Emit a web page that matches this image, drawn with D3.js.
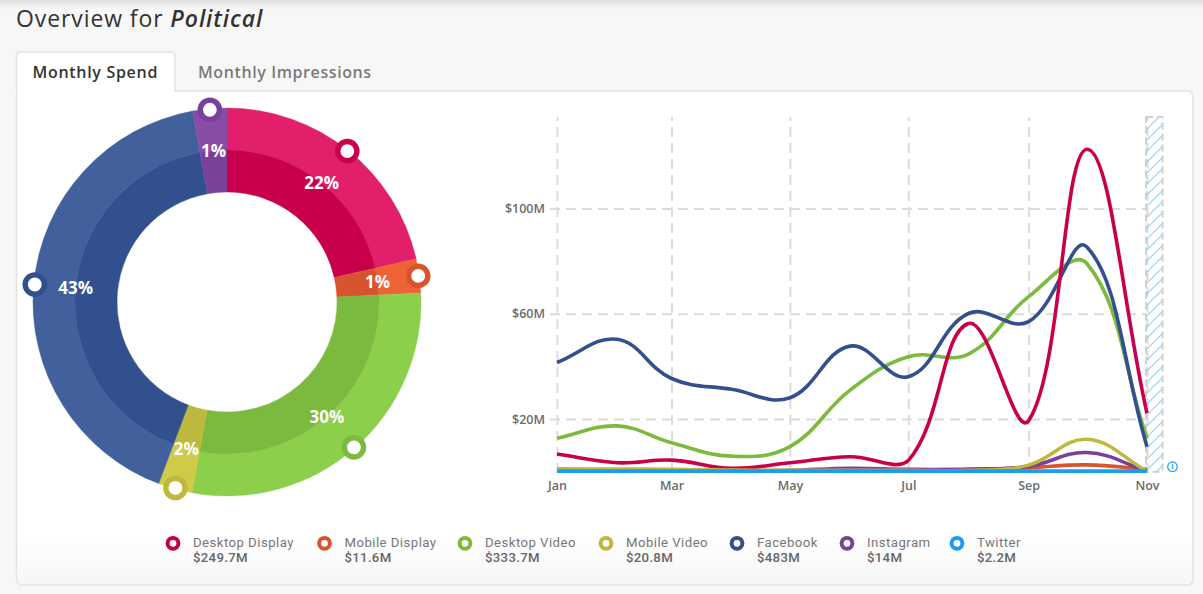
<!DOCTYPE html>
<html><head><meta charset="utf-8">
<script src="https://cdn.jsdelivr.net/npm/d3@7"></script>
<style>
html,body{margin:0;padding:0;background:#f7f7f7;}
svg{display:block;font-family:"Open Sans",sans-serif;}
</style></head><body>
<svg id="c" width="1203" height="594"></svg>
<script>
// ---------- data ----------
const categories = ["Desktop Display","Mobile Display","Desktop Video","Mobile Video","Facebook","Instagram","Twitter"];
const totals = [249.7, 11.6, 333.7, 20.8, 483, 14, 2.2];           // $M
const totalLabels = ["$249.7M","$11.6M","$333.7M","$20.8M","$483M","$14M","$2.2M"];
const months = ["2018-01","2018-02","2018-03","2018-04","2018-05","2018-06","2018-07","2018-08","2018-09","2018-10","2018-11"];
const desktopDisplay = [6.7,3.4,4.4,1.3,3.4,5.7,4.2,56.3,19.4,122.5,22.2];
const mobileDisplay  = [0.3,0.3,0.3,0.3,0.3,0.3,0.3,0.6,1.5,2.6,0.9];
const desktopVideo   = [12.7,17.4,11.0,5.9,9.5,31.0,43.7,44.7,66.5,79.1,12.7];
const mobileVideo    = [1.1,1.0,0.9,0.6,0.5,0.5,0.5,0.5,2.5,12.3,0.2];
const facebook       = [41.5,50.3,35.4,31.3,28.1,47.7,36.1,60.1,57.0,85.4,9.5];
const instagram      = [0.2,0.2,0.2,0.3,0.5,1.3,0.9,1.0,2.0,7.3,0.3];
const twitter        = [0.2,0.2,0.2,0.2,0.2,0.2,0.2,0.2,0.2,0.2,0.2];
const yTicks = [20,60,100];
const yTickLabels = ["$20M","$60M","$100M"];
const xTickLabels = ["Jan","Mar","May","Jul","Sep","Nov"];

// ---------- styles ----------
const baseColors  = ["#c8004b","#d8542f","#7cba3f","#bdb83e","#32508e","#7a409a","#1a9cf0"];
const lightColors = ["#e11f6b","#ee6235","#8ccf4a","#cfca48","#41609c","#8a4ca7","#3aaef5"];
const seriesData = [desktopDisplay,mobileDisplay,desktopVideo,mobileVideo,facebook,instagram,twitter];
const drawOrder = [2,4,0,1,5,3,6];

const svg = d3.select("#c");
const defs = svg.append("defs");

// page top shadow
const tg = defs.append("linearGradient").attr("id","topShadow").attr("x1",0).attr("x2",0).attr("y1",0).attr("y2",1);
tg.append("stop").attr("offset",0).attr("stop-color","#dedede");
tg.append("stop").attr("offset",1).attr("stop-color","#f7f7f7");
svg.append("rect").attr("x",0).attr("y",0).attr("width",1203).attr("height",9).attr("fill","url(#topShadow)");

// panel gradient
const pg = defs.append("linearGradient").attr("id","panelFill").attr("x1",0).attr("x2",0).attr("y1",0).attr("y2",1);
pg.append("stop").attr("offset",0.9).attr("stop-color","#ffffff");
pg.append("stop").attr("offset",1).attr("stop-color","#f6f6f6");

// hatch pattern
const hp = defs.append("pattern").attr("id","hatch").attr("width",11).attr("height",11).attr("patternUnits","userSpaceOnUse");
hp.append("path").attr("d","M-1,1 l2,-2 M0,11 l11,-11 M10,12 l2,-2").attr("stroke","#8fd0f5").attr("stroke-width",1.1);

// title
const title = svg.append("text").attr("x",16).attr("y",26.5).attr("font-size",23).attr("letter-spacing",0.9).attr("fill","#333");
title.append("tspan").text("Overview for ");
title.append("tspan").attr("font-style","italic").attr("font-weight",600).text("Political");

// panel
svg.append("rect").attr("x",16.5).attr("y",91).attr("width",1176.5).attr("height",494).attr("rx",5)
  .attr("fill","url(#panelFill)").attr("stroke","#e3e3e3").attr("stroke-width",1.6);
// active tab
svg.append("path").attr("d","M16.5,92 L16.5,56 Q16.5,52 20.5,52 L171,52 Q175,52 175,56 L175,92")
  .attr("fill","#fff").attr("stroke","#e3e3e3").attr("stroke-width",1.6);
svg.append("rect").attr("x",17.4).attr("y",89).attr("width",156.8).attr("height",4).attr("fill","#fff");
svg.append("text").attr("x",32.5).attr("y",78).attr("font-size",16).attr("letter-spacing",0.7).attr("font-weight",600).attr("fill","#333").text("Monthly Spend");
svg.append("text").attr("x",198).attr("y",78).attr("font-size",16).attr("letter-spacing",0.6).attr("font-weight",600).attr("fill","#7a7a7a").text("Monthly Impressions");

// ---------- donut ----------
const sum = d3.sum(totals);
const pctR = totals.map(v => Math.round(v / sum * 100));
const minFrac = 10.2 / 360;
const isSmall = totals.map((v,i) => pctR[i] > 0 && v / sum < minFrac);
const bigSum = d3.sum(totals.filter((v,i) => pctR[i] > 0 && !isSmall[i]));
const bigFrac = 1 - minFrac * isSmall.filter(Boolean).length;
const displayVals = totals.map((v,i) => pctR[i] === 0 ? 0 : (isSmall[i] ? minFrac / bigFrac * bigSum : v));

const cx = 227, cy = 302, rIn = 110, rMid = 152, rOut = 194;
const pie = d3.pie().sort(null).value((d,i) => displayVals[i]);
const arcs = pie(categories);
const donut = svg.append("g").attr("transform",`translate(${cx},${cy})`);
const arcInner = d3.arc().innerRadius(rIn).outerRadius(rMid);
const arcOuter = d3.arc().innerRadius(rMid).outerRadius(rOut);
const shown = arcs.filter(a => a.endAngle - a.startAngle > 0);
donut.selectAll("path.o").data(shown).join("path").attr("class","o")
  .attr("d",arcOuter).attr("fill",d => lightColors[d.index]).attr("stroke",d => lightColors[d.index]).attr("stroke-width",0.4);
donut.selectAll("path.i").data(shown).join("path").attr("class","i")
  .attr("d",arcInner).attr("fill",d => baseColors[d.index]).attr("stroke",d => baseColors[d.index]).attr("stroke-width",0.4);
const mid = a => (a.startAngle + a.endAngle) / 2;
donut.selectAll("text.pct").data(shown).join("text").attr("class","pct")
  .attr("x",d => rMid * Math.sin(mid(d))).attr("y",d => -rMid * Math.cos(mid(d)))
  .attr("text-anchor","middle").attr("dy","0.36em")
  .attr("font-size",17).attr("font-weight",700).attr("fill","#fff")
  .text(d => pctR[d.index] + "%");
donut.selectAll("circle.mk").data(shown).join("circle").attr("class","mk")
  .attr("cx",d => 193 * Math.sin(mid(d))).attr("cy",d => -193 * Math.cos(mid(d)))
  .attr("r",9.6).attr("fill","#fff").attr("stroke",d => baseColors[d.index]).attr("stroke-width",5.4);

// ---------- line chart ----------
const parse = d3.timeParse("%Y-%m");
const dates = months.map(parse);
const x = d3.scaleTime().domain(d3.extent(dates)).range([557,1147]);
const yMax = d3.max(seriesData.flat()) * 1.1;
const y = d3.scaleLinear().domain([0, yMax]).range([471.7, 117]);
const yTop = y.range()[1], yBottom = y.range()[0];

const chart = svg.append("g");
// vertical grid
const xTickDates = d3.timeMonth.every(2).range(dates[0], d3.timeDay.offset(dates[dates.length-1],1));
const vg = chart.append("g").attr("transform",`translate(0,${yBottom+1})`)
  .call(d3.axisBottom(x).tickValues(xTickDates).tickSize(-(yBottom + 1 - yTop)).tickFormat(""));
vg.select(".domain").remove();
vg.selectAll("line").attr("stroke","#dcdcdc").attr("stroke-width",2).attr("stroke-dasharray","10,6");
// horizontal grid
const hg = chart.append("g").attr("transform","translate(550,0)")
  .call(d3.axisLeft(y).tickValues(yTicks).tickSize(-(1145 - 550)).tickFormat(""));
hg.select(".domain").remove();
hg.selectAll("line").attr("stroke","#dcdcdc").attr("stroke-width",2).attr("stroke-dasharray","10,6");

// hatched (incomplete month)
chart.append("rect").attr("x",x(dates[dates.length-1]) - 1).attr("y",yTop).attr("width",16.5).attr("height",yBottom - yTop)
  .attr("fill","url(#hatch)").attr("stroke","#d0d0d0").attr("stroke-width",2).attr("stroke-dasharray","7,4");

// axes labels
const ya = chart.append("g").attr("transform","translate(545,0)")
  .call(d3.axisLeft(y).tickValues(yTicks).tickSize(0).tickPadding(0).tickFormat((d,i) => yTickLabels[i]));
ya.select(".domain").remove();
ya.selectAll("text").attr("font-family","Open Sans, sans-serif").attr("font-size",12.5).attr("font-weight",600).attr("fill","#6b6b6b");
const xa = chart.append("g").attr("transform",`translate(0,${yBottom})`)
  .call(d3.axisBottom(x).tickValues(xTickDates).tickSize(0).tickPadding(9).tickFormat((d,i) => xTickLabels[i]));
xa.select(".domain").remove();
xa.selectAll("text").attr("font-family","Open Sans, sans-serif").attr("font-size",12.5).attr("font-weight",600).attr("fill","#6b6b6b");

// Chart.js-like spline (tension 0.4, control points capped to the chart area)
function splineCurve(bounds){
  return function(context){
    let pts;
    return {
      areaStart(){}, areaEnd(){},
      lineStart(){ pts = []; },
      point(px,py){ pts.push([+px,+py]); },
      lineEnd(){
        const n = pts.length, t = 0.4;
        if (!n) return;
        const cap = (v,lo,hi) => Math.max(lo, Math.min(hi, v));
        const cps = pts.map((p,i) => {
          const a = pts[Math.max(0,i-1)], b = pts[Math.min(n-1,i+1)];
          const d01 = Math.hypot(p[0]-a[0], p[1]-a[1]), d12 = Math.hypot(b[0]-p[0], b[1]-p[1]);
          let s01 = d01/(d01+d12), s12 = d12/(d01+d12);
          if (!isFinite(s01)) s01 = 0; if (!isFinite(s12)) s12 = 0;
          const fa = t*s01, fb = t*s12;
          return [cap(p[0]-fa*(b[0]-a[0]), bounds.left, bounds.right), cap(p[1]-fa*(b[1]-a[1]), bounds.top, bounds.bottom),
                  cap(p[0]+fb*(b[0]-a[0]), bounds.left, bounds.right), cap(p[1]+fb*(b[1]-a[1]), bounds.top, bounds.bottom)];
        });
        context.moveTo(pts[0][0], pts[0][1]);
        for (let i = 1; i < n; i++) {
          const c0 = cps[i-1], c1 = cps[i];
          context.bezierCurveTo(c0[2], c0[3], c1[0], c1[1], pts[i][0], pts[i][1]);
        }
      }
    };
  };
}
const line = d3.line().x((d,i) => x(dates[i])).y(d => y(d))
  .curve(splineCurve({left:557, right:1147, top:yTop, bottom:yBottom}));
chart.selectAll("path.series").data(drawOrder).join("path").attr("class","series")
  .attr("d", i => line(seriesData[i])).attr("fill","none")
  .attr("stroke", i => baseColors[i]).attr("stroke-width",3.6);

// info icon
const info = svg.append("g").attr("transform","translate(1172.5,466.7)");
info.append("circle").attr("r",4.8).attr("fill","#fff").attr("stroke","#1a9cf0").attr("stroke-width",1.2);
info.append("text").attr("text-anchor","middle").attr("dy","0.35em").attr("font-size",7.5).attr("font-weight",700).attr("fill","#1a9cf0").text("i");

// ---------- legend ----------
const legendX = [193, 344.5, 485, 626, 757, 867, 977];
const lg = svg.append("g").attr("font-family","Roboto, sans-serif").selectAll("g").data(categories).join("g")
  .attr("transform",(d,i) => `translate(${legendX[i]},0)`);
lg.append("circle").attr("cx",-20).attr("cy",543.3).attr("r",5.4).attr("fill","#fff")
  .attr("stroke",(d,i) => baseColors[i]).attr("stroke-width",4);
lg.append("text").attr("x",0).attr("y",546.5).attr("font-size",13.2).attr("letter-spacing",0.45).attr("fill","#777").text(d => d);
lg.append("text").attr("x",0).attr("y",562).attr("font-size",13.2).attr("letter-spacing",0.3).attr("font-weight",500).attr("fill","#666").text((d,i) => totalLabels[i]);
</script>
</body></html>
